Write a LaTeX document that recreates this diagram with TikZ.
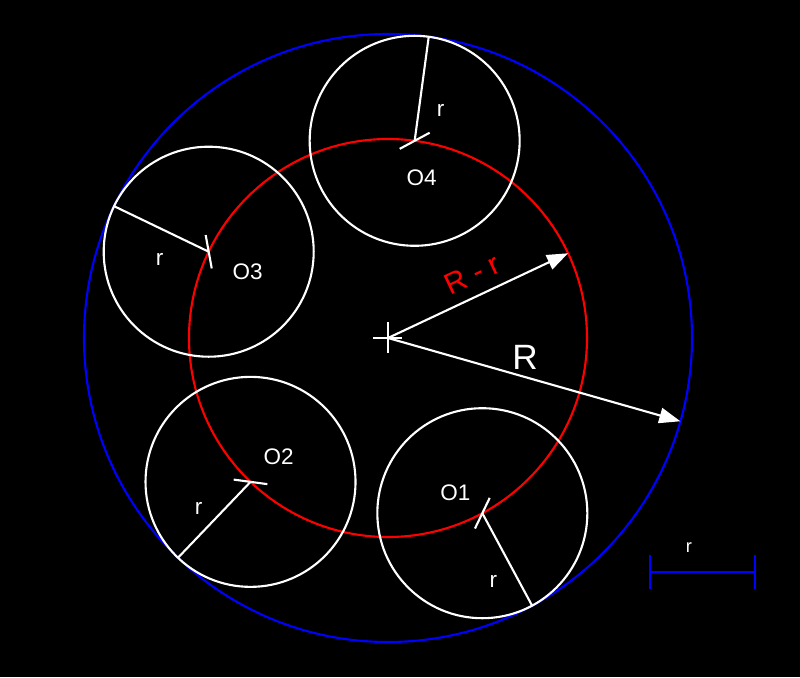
\documentclass[tikz,border=0pt]{standalone}
\usepackage{fontspec}
\setmainfont{Liberation Sans}
\usetikzlibrary{calc,arrows.meta}

\begin{document}
\begin{tikzpicture}[x=0.025cm, y=0.025cm,
    wheel/.style={white, line width=1.5pt},
    lbl/.style={white, font=\fontsize{16}{18}\selectfont},
    arr/.style={white, line width=1.5pt, -{Triangle[length=15pt, width=11pt]}}]
    \fill[black] (-388,-339) rectangle (412,338);
    \useasboundingbox (-388,-339) rectangle (412,338);
    \coordinate (C) at (0,0);
    % outer circle R and path of the centres R - r
    \draw[blue, line width=1.5pt] (C) circle (304);
    \draw[red, line width=1.5pt] (C) circle (199);
    % small circles O1..O4
    \foreach \i/\a/\lx/\ly/\rx/\ry in {1/298.3/-27/20/11/-68, 2/226.3/28/25/-52/-27, 3/154.3/39/-20/-49/-8, 4/82.3/7/-37/26/30} {
        \coordinate (O\i) at (\a:199);
        \coordinate (T\i) at (\a:304);
        \draw[wheel] (O\i) circle (105);
        \draw[wheel] (O\i) -- (T\i);
        \draw[wheel] ($(O\i)+({\a-54}:17)$) -- ($(O\i)+({\a+126}:17)$);
        \node[lbl] (n\i) at ($(O\i)+(\lx,\ly)$) {O\i};
        \node[lbl] (r\i) at ($(O\i)+(\rx,\ry)$) {r};
    }
    % centre mark
    \draw[wheel] ($(C)+(-15,0)$) -- ($(C)+(14,0)$);
    \draw[wheel] ($(C)+(0,16)$) -- ($(C)+(0,-15)$);
    % radii
    \coordinate (P) at (25.2:199);
    \coordinate (Q) at (-15.9:304);
    \draw[arr] (C) -- (P);
    \draw[arr] (C) -- (Q);
    \node[red, rotate=25.2, font=\fontsize{21}{24}\selectfont] (Rr) at (84,64) {R - r};
    \node[white, font=\fontsize{25}{28}\selectfont] (Rl) at (137,-19) {R};
    % scale bar
    \coordinate (S1) at (262,-234);
    \coordinate (S2) at (367,-234);
    \draw[blue, line width=1.8pt] (S1) -- (S2);
    \draw[blue, line width=1.8pt] ($(S1)+(0,17)$) -- ($(S1)+(0,-17)$);
    \draw[blue, line width=1.8pt] ($(S2)+(0,17)$) -- ($(S2)+(0,-17)$);
    \node[white, font=\fontsize{13}{15}\selectfont] (rs) at (301,-210) {r};
\end{tikzpicture}
\end{document}
